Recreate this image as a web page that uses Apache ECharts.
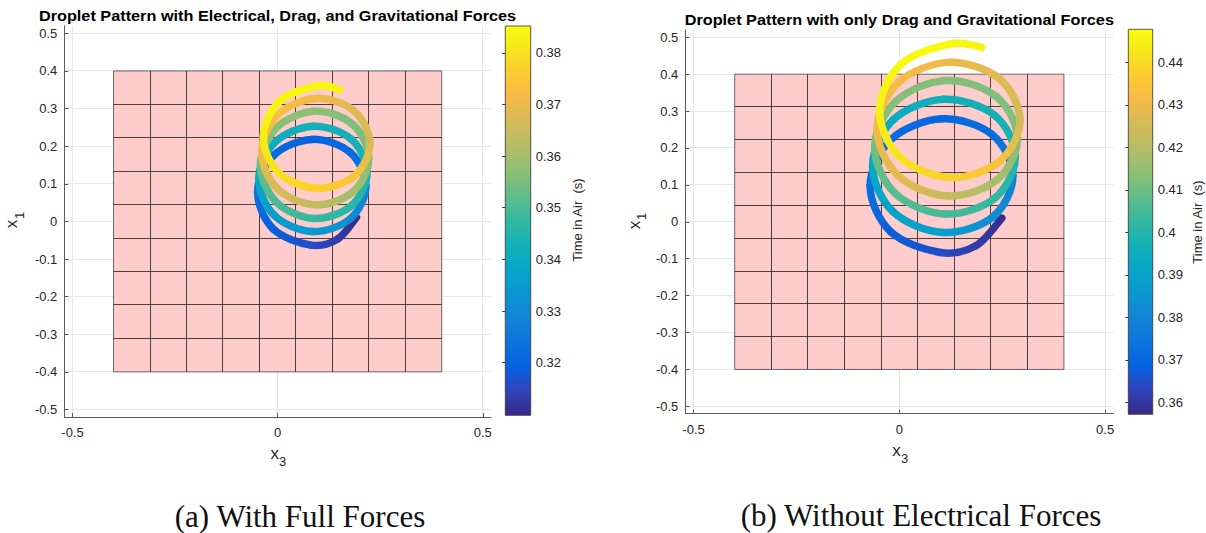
<!DOCTYPE html>
<html>
<head>
<meta charset="utf-8">
<title>Droplet Pattern</title>
<script src="https://cdn.jsdelivr.net/npm/echarts@6/dist/echarts.min.js"></script>
<style>
  html, body { margin: 0; padding: 0; background: #fff; }
  #chart { width: 1206px; height: 533px; }
</style>
</head>
<body>
<div id="chart"></div>
<script>
// axis ticks (both panels)
var xTicks = [-0.5, 0, 0.5];
var yTicks = [-0.5, -0.4, -0.3, -0.2, -0.1, 0, 0.1, 0.2, 0.3, 0.4, 0.5];
var axisLimit = 0.52;

// pink target pad: -0.4..0.4 split in 9 x 9 cells
var padMin = -0.4, padMax = 0.4, padCells = 9;

// (a) electrical + drag + gravity : landing points x3, x1 and time in air
var aX = [0.192, 0.146, 0.081, -0.011, -0.049, -0.010, 0.083, 0.176, 0.215, 0.177, 0.084,
          -0.008, -0.046, -0.007, 0.086, 0.179, 0.218, 0.180, 0.088, -0.004, -0.042,
          -0.003, 0.090, 0.183, 0.222, 0.184, 0.092, -0.001, -0.039, 0.000, 0.093,
          0.186, 0.225, 0.187, 0.095, 0.003, -0.035, 0.004, 0.097, 0.151];
var aY = [0.011, -0.047, -0.063, -0.020, 0.078, 0.175, 0.218, 0.184, 0.095, 0.007, -0.027,
          0.016, 0.113, 0.210, 0.253, 0.219, 0.131, 0.042, 0.008, 0.052, 0.151,
          0.249, 0.293, 0.258, 0.168, 0.079, 0.044, 0.087, 0.185, 0.283, 0.327,
          0.294, 0.207, 0.121, 0.088, 0.129, 0.224, 0.319, 0.360, 0.350];
var aT = [0.310, 0.313, 0.316, 0.319, 0.323, 0.321, 0.3195, 0.321, 0.327, 0.331, 0.334,
          0.336, 0.339, 0.341, 0.342, 0.343, 0.344, 0.346, 0.348, 0.350, 0.354,
          0.357, 0.3575, 0.3555, 0.356, 0.360, 0.3635, 0.367, 0.371, 0.3725, 0.371,
          0.368, 0.3665, 0.374, 0.377, 0.380, 0.382, 0.384, 0.384, 0.3835];
var aRange = [0.3098, 0.3852];
var aBarTicks = [0.32, 0.33, 0.34, 0.35, 0.36, 0.37, 0.38];

// (b) drag + gravity only
var bX = [0.249, 0.186, 0.100, -0.021, -0.071, -0.020, 0.103, 0.225, 0.276, 0.227, 0.106,
          -0.015, -0.065, -0.014, 0.108, 0.231, 0.282, 0.232, 0.111, -0.010, -0.060,
          -0.008, 0.114, 0.236, 0.287, 0.238, 0.117, -0.004, -0.054, -0.003, 0.119,
          0.242, 0.293, 0.243, 0.122, 0.001, -0.048, 0.003, 0.125, 0.200];
var bY = [0.010, -0.065, -0.083, -0.027, 0.098, 0.223, 0.279, 0.237, 0.125, 0.013, -0.029,
          0.027, 0.152, 0.277, 0.332, 0.289, 0.177, 0.064, 0.021, 0.077, 0.202,
          0.327, 0.383, 0.339, 0.227, 0.114, 0.070, 0.126, 0.251, 0.377, 0.432,
          0.389, 0.276, 0.163, 0.120, 0.176, 0.301, 0.426, 0.482, 0.473];
var bT = [0.358, 0.361, 0.365, 0.368, 0.373, 0.372, 0.370, 0.372, 0.378, 0.383, 0.388,
          0.390, 0.392, 0.394, 0.396, 0.397, 0.399, 0.402, 0.405, 0.407, 0.411,
          0.413, 0.413, 0.412, 0.413, 0.418, 0.423, 0.428, 0.430, 0.432, 0.430,
          0.427, 0.425, 0.434, 0.438, 0.442, 0.445, 0.447, 0.447, 0.446];
var bRange = [0.3572, 0.4478];
var bBarTicks = [0.36, 0.37, 0.38, 0.39, 0.40, 0.41, 0.42, 0.43, 0.44];

// parula colormap
var parulaStops = [
  [0, '#352a87'], [4 / 63, '#3243ba'], [8 / 63, '#0363e1'], [12 / 63, '#0d75dc'],
  [16 / 63, '#1485d4'], [20 / 63, '#0998d1'], [24 / 63, '#06a7c6'], [28 / 63, '#16b1b4'],
  [32 / 63, '#38b99e'], [36 / 63, '#65be86'], [40 / 63, '#92bf73'], [44 / 63, '#b7bd64'],
  [48 / 63, '#d9ba56'], [52 / 63, '#f8bb44'], [56 / 63, '#fcce2e'], [60 / 63, '#f5eb18'],
  [1, '#f9fb0e']
];

var FONT = '"Liberation Sans", Arial, Helvetica, sans-serif';
var TXT = '#262626';

function hexRgb (h) {
  return [parseInt(h.slice(1, 3), 16), parseInt(h.slice(3, 5), 16), parseInt(h.slice(5, 7), 16)];
}

function parula (t, range) {
  var f = (t - range[0]) / (range[1] - range[0]);
  f = Math.max(0, Math.min(1, f));
  for (var i = 1; i < parulaStops.length; i++) {
    if (f <= parulaStops[i][0]) {
      var a = parulaStops[i - 1], b = parulaStops[i];
      var k = (f - a[0]) / (b[0] - a[0]);
      var ca = hexRgb(a[1]), cb = hexRgb(b[1]);
      return 'rgb(' + [0, 1, 2].map(function (j) { return Math.round(ca[j] + (cb[j] - ca[j]) * k); }).join(',') + ')';
    }
  }
  return parulaStops[parulaStops.length - 1][1];
}

function crisp (v) { return Math.round(v - 0.5) + 0.5; }

function fmt (v) { return String(Math.round(v * 100) / 100); }

// gridlines + pink pad
function backRenderer (params, api) {
  var kids = [];
  yTicks.forEach(function (v) {
    var a = api.coord([-axisLimit, v]), b = api.coord([axisLimit, v]);
    kids.push({ type: 'line', shape: { x1: a[0], y1: crisp(a[1]), x2: b[0], y2: crisp(b[1]) },
      style: { stroke: '#e6e6e6', lineWidth: 1 } });
  });
  xTicks.forEach(function (v) {
    var a = api.coord([v, -axisLimit]), b = api.coord([v, axisLimit]);
    kids.push({ type: 'line', shape: { x1: crisp(a[0]), y1: a[1], x2: crisp(b[0]), y2: b[1] },
      style: { stroke: '#e6e6e6', lineWidth: 1 } });
  });
  var lo = api.coord([padMin, padMin]), hi = api.coord([padMax, padMax]);
  kids.push({ type: 'rect', shape: { x: lo[0], y: hi[1], width: hi[0] - lo[0], height: lo[1] - hi[1] },
    style: { fill: '#ffcccc', stroke: 'rgba(60,60,60,0.75)', lineWidth: 1 } });
  var step = (padMax - padMin) / padCells;
  for (var k = 1; k < padCells; k++) {
    var v = padMin + k * step;
    var p = api.coord([v, v]);
    kids.push({ type: 'line', shape: { x1: crisp(p[0]), y1: lo[1], x2: crisp(p[0]), y2: hi[1] },
      style: { stroke: 'rgba(30,30,30,0.8)', lineWidth: 1 } });
    kids.push({ type: 'line', shape: { x1: lo[0], y1: crisp(p[1]), x2: hi[0], y2: crisp(p[1]) },
      style: { stroke: 'rgba(30,30,30,0.8)', lineWidth: 1 } });
  }
  return { type: 'group', children: kids };
}

// smooth coloured track through the landing points (Catmull-Rom segments)
function trackRenderer (xs, ys, ts, range) {
  return function (params, api) {
    var i = params.dataIndex, n = xs.length;
    if (i >= n - 1) return null;
    function p (k) {
      k = Math.max(0, Math.min(n - 1, k));
      return api.coord([xs[k], ys[k]]);
    }
    var p0 = p(i - 1), p1 = p(i), p2 = p(i + 1), p3 = p(i + 2);
    var c1 = [p1[0] + (p2[0] - p0[0]) / 6, p1[1] + (p2[1] - p0[1]) / 6];
    var c2 = [p2[0] - (p3[0] - p1[0]) / 6, p2[1] - (p3[1] - p1[1]) / 6];
    var grad = new echarts.graphic.LinearGradient(p1[0], p1[1], p2[0], p2[1], [
      { offset: 0, color: parula(ts[i], range) },
      { offset: 1, color: parula(ts[i + 1], range) }
    ], true);
    return {
      type: 'bezierCurve',
      shape: { x1: p1[0], y1: p1[1], x2: p2[0], y2: p2[1], cpx1: c1[0], cpy1: c1[1], cpx2: c2[0], cpy2: c2[1] },
      style: { fill: 'none', stroke: grad, lineWidth: 7.5, lineCap: 'round' }
    };
  };
}

function barRenderer (range) {
  return function (params, api) {
    var a = api.coord([0, range[1]]), b = api.coord([1, range[0]]);
    return {
      type: 'rect',
      shape: { x: a[0], y: a[1], width: b[0] - a[0], height: b[1] - a[1] },
      style: {
        fill: new echarts.graphic.LinearGradient(0, 1, 0, 0, parulaStops.map(function (s) {
          return { offset: s[0], color: s[1] };
        })),
        stroke: 'rgba(50,50,50,0.8)', lineWidth: 1
      }
    };
  };
}

function mainX (gi) {
  return {
    gridIndex: gi, type: 'value', min: -axisLimit, max: axisLimit,
    axisLine: { show: true, onZero: false, lineStyle: { color: '#5a5a5a', width: 1 } },
    axisTick: { show: true, inside: true, length: 4, customValues: xTicks, lineStyle: { color: '#5a5a5a' } },
    axisLabel: { customValues: xTicks, margin: 9, formatter: fmt, color: TXT, fontSize: 13, fontFamily: FONT },
    splitLine: { show: false }
  };
}
function mainY (gi) {
  return {
    gridIndex: gi, type: 'value', min: -axisLimit, max: axisLimit,
    axisLine: { show: true, onZero: false, lineStyle: { color: '#5a5a5a', width: 1 } },
    axisTick: { show: true, inside: true, length: 4, customValues: yTicks, lineStyle: { color: '#5a5a5a' } },
    axisLabel: { customValues: yTicks, margin: 7, formatter: fmt, color: TXT, fontSize: 13, fontFamily: FONT },
    splitLine: { show: false }
  };
}
function barX (gi) {
  return { gridIndex: gi, type: 'value', min: 0, max: 1, show: false };
}
function barY (gi, range, ticks) {
  return {
    gridIndex: gi, type: 'value', min: range[0], max: range[1], position: 'right',
    axisLine: { show: false },
    axisTick: { show: true, inside: true, length: 3, customValues: ticks, lineStyle: { color: '#333' } },
    axisLabel: { customValues: ticks, margin: 5, formatter: fmt, color: TXT, fontSize: 13, fontFamily: FONT },
    splitLine: { show: false }
  };
}

function text (str, x, y, font, opts) {
  opts = opts || {};
  return {
    type: 'text', x: x, y: y, rotation: opts.rotation || 0, scaleX: opts.scaleX || 1, silent: true,
    style: {
      text: str, font: font, fill: opts.color || TXT,
      align: 'center', verticalAlign: 'middle', textAlign: 'center', textVerticalAlign: 'middle'
    }
  };
}

var TITLE_FONT = 'bold 15px ' + FONT;
var LABEL_FONT = '17px ' + FONT;
var SUB_FONT = '13px ' + FONT;
var BAR_FONT = '13px ' + FONT;
var CAP_FONT = '31px "Liberation Serif", "Times New Roman", serif';
var R90 = Math.PI / 2;

var chart = echarts.init(document.getElementById('chart'), null, { renderer: 'svg' });

chart.setOption({
  animation: false,
  backgroundColor: '#fff',
  grid: [
    { left: 64.3, top: 25.8, width: 426.7, height: 391.2, containLabel: false, outerBoundsMode: 'none' },
    { left: 505.3, top: 26, width: 25.4, height: 389.3, containLabel: false, outerBoundsMode: 'none' },
    { left: 685.3, top: 29.9, width: 428, height: 383.8, containLabel: false, outerBoundsMode: 'none' },
    { left: 1128.3, top: 29.3, width: 24.4, height: 385, containLabel: false, outerBoundsMode: 'none' }
  ],
  xAxis: [mainX(0), barX(1), mainX(2), barX(3)],
  yAxis: [mainY(0), barY(1, aRange, aBarTicks), mainY(2), barY(3, bRange, bBarTicks)],
  series: [
    { type: 'custom', xAxisIndex: 0, yAxisIndex: 0, z: -1, silent: true, data: [[0, 0]], renderItem: backRenderer },
    { type: 'custom', xAxisIndex: 0, yAxisIndex: 0, silent: true,
      data: aX.map(function (x, k) { return [x, aY[k], aT[k]]; }),
      renderItem: trackRenderer(aX, aY, aT, aRange) },
    { type: 'custom', xAxisIndex: 1, yAxisIndex: 1, z: -1, silent: true, data: [[0.5, aRange[0]]], renderItem: barRenderer(aRange) },
    { type: 'custom', xAxisIndex: 2, yAxisIndex: 2, z: -1, silent: true, data: [[0, 0]], renderItem: backRenderer },
    { type: 'custom', xAxisIndex: 2, yAxisIndex: 2, silent: true,
      data: bX.map(function (x, k) { return [x, bY[k], bT[k]]; }),
      renderItem: trackRenderer(bX, bY, bT, bRange) },
    { type: 'custom', xAxisIndex: 3, yAxisIndex: 3, z: -1, silent: true, data: [[0.5, bRange[0]]], renderItem: barRenderer(bRange) }
  ],
  graphic: { elements: [
    text('Droplet Pattern with Electrical, Drag, and Gravitational Forces', 277.5, 15.5, TITLE_FONT, { color: '#000', scaleX: 1.085 }),
    text('Droplet Pattern with only Drag and Gravitational Forces', 899.3, 19.3, TITLE_FONT, { color: '#000', scaleX: 1.085 }),
    text('x', 274.7, 453.5, LABEL_FONT),
    text('3', 282.7, 461.7, SUB_FONT),
    text('x', 896.5, 450.5, LABEL_FONT),
    text('3', 904.5, 458.7, SUB_FONT),
    text('x', 11.9, 224, LABEL_FONT, { rotation: R90 }),
    text('1', 19.2, 215.5, SUB_FONT, { rotation: R90 }),
    text('x', 634.3, 225, LABEL_FONT, { rotation: R90 }),
    text('1', 641.6, 216.5, SUB_FONT, { rotation: R90 }),
    text('Time in Air  (s)', 577, 220, BAR_FONT, { rotation: R90 }),
    text('Time in Air  (s)', 1197, 222, BAR_FONT, { rotation: R90 }),
    text('(a) With Full Forces', 300, 516, CAP_FONT, { color: '#111' }),
    text('(b) Without Electrical Forces', 921, 515, CAP_FONT, { color: '#111' })
  ] }
});
</script>
</body>
</html>
